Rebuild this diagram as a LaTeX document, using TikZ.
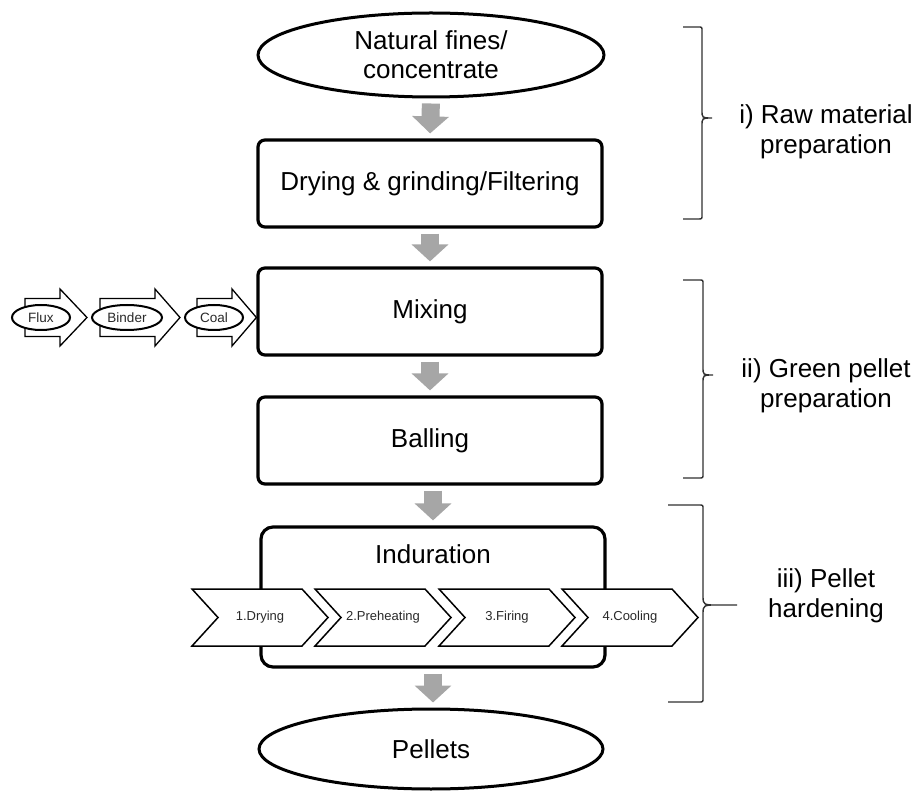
\documentclass[tikz,border=0pt]{standalone}
\usepackage{fontspec}
\setmainfont{Liberation Sans}
\usetikzlibrary{shapes.geometric,arrows.meta,calc}
\definecolor{arrgray}{HTML}{A6A6A6}
\definecolor{txtgray}{HTML}{2A2A2A}
\definecolor{bracegray}{HTML}{303030}
\pgfdeclarelayer{bg}
\pgfsetlayers{bg,main}
\begin{document}
\begin{tikzpicture}[x=1pt,y=-1pt,
  big/.style={font=\fontsize{26}{29}\selectfont},
  lbl/.style={font=\fontsize{26}{30}\selectfont, align=center, text=black},
  procbox/.style={draw=black, line width=3.2pt, rounded corners=7pt, fill=white,
     minimum width=344pt, minimum height=87pt, inner sep=0pt, big},
  endell/.style={draw=black, line width=3pt, ellipse, fill=white, inner sep=0pt, big, align=center},
  flowarrow/.style={draw=arrgray, line width=18pt,
     -{Triangle[width=36pt,length=17pt]}, shorten <=5pt, shorten >=5pt},
  inell/.style={draw=black, line width=2pt, ellipse, fill=white, inner sep=0pt,
     minimum height=25pt, font=\fontsize{13.5}{15}\selectfont, text=txtgray},
  inarr/.style={draw=black, line width=1.3pt, fill=white, line join=miter},
  chev/.style={draw=black, line width=1.5pt, fill=white, line join=miter},
  chevtext/.style={font=\fontsize{13}{15}\selectfont, text=txtgray, inner sep=0pt},
  bracestyle/.style={draw=bracegray, line width=1.4pt}
]
\useasboundingbox (0,0) rectangle (919,791);

% main column
\node[endell, minimum width=346pt, minimum height=84pt] (src) at (431,55) {Natural fines/\\concentrate};
\node[procbox] (dry) at (430,183.5) {Drying \& grinding/Filtering};
\node[procbox] (mix) at (430,311.5) {Mixing};
\node[procbox] (ball) at (430,440.5) {Balling};
\node[procbox, minimum height=140pt, rounded corners=12pt] (ind) at (433,597) {};
\node[big, anchor=base] (indt) at (433,563) {Induration};
\node[endell, minimum width=344pt, minimum height=80pt] (pel) at (431,749) {Pellets};

% chevrons of induration
\foreach \L/\t [count=\i] in {192/1.Drying, 315/2.Preheating, 439/3.Firing, 562/4.Cooling} {
  \draw[chev] (\L,589) -- (\L+110,589) -- (\L+136,617.5) -- (\L+110,646) -- (\L,646) -- (\L+26,617.5) -- cycle;
  \node[chevtext] (c\i) at (\L+68,617.5) {\t};
}

% gray flow arrows
\draw[flowarrow] (src.south) -- (dry.north);
\draw[flowarrow] (dry.south) -- (mix.north);
\draw[flowarrow] (mix.south) -- (ball.north);
\draw[flowarrow] (ball.south -| ind.north) -- (ind.north);
\draw[flowarrow] (ind.south) -- (ind.south |- pel.north);

% input ellipses
\node[inell, minimum width=58pt] (flux) at (41,317.5) {Flux};
\node[inell, minimum width=70pt] (binder) at (127,317.5) {Binder};
\node[inell, minimum width=58pt] (coal) at (214,317.5) {Coal};

\begin{pgfonlayer}{bg}
\draw[inarr] ($(flux.center)+(-16,-19)$) -- ($(flux.center)+(19,-19)$) -- ($(flux.center)+(19,-28.5)$)
  -- ($(flux.center -| binder.west)+(-4,0)$)
  -- ($(flux.center)+(19,28.5)$) -- ($(flux.center)+(19,19)$) -- ($(flux.center)+(-16,19)$) -- cycle;
\draw[inarr] ($(binder.center)+(-27,-19)$) -- ($(binder.center)+(28,-19)$) -- ($(binder.center)+(28,-28.5)$)
  -- ($(binder.center -| coal.west)+(-4,0)$)
  -- ($(binder.center)+(28,28.5)$) -- ($(binder.center)+(28,19)$) -- ($(binder.center)+(-27,19)$) -- cycle;
\draw[inarr] ($(coal.center)+(-17,-19)$) -- ($(coal.center)+(18,-19)$) -- ($(coal.center)+(18,-28.5)$)
  -- (coal.center -| mix.west)
  -- ($(coal.center)+(18,28.5)$) -- ($(coal.center)+(18,19)$) -- ($(coal.center)+(-17,19)$) -- cycle;
\end{pgfonlayer}

% braces
\draw[bracestyle] (683,27) -- (698,27) .. controls (702,27) .. (702,31) -- (702,110)
  .. controls (702,118) .. (712,118) .. controls (702,118) .. (702,126) -- (702,215)
  .. controls (702,219) .. (698,219) -- (683,219);
\draw[bracestyle] (683,280) -- (699,280) .. controls (703,280) .. (703,284) -- (703,367)
  .. controls (703,375) .. (713,375) .. controls (703,375) .. (703,383) -- (703,474)
  .. controls (703,478) .. (699,478) -- (683,478);
\draw[bracestyle] (668,505) -- (699,505) .. controls (703,505) .. (703,509) -- (703,597)
  .. controls (703,605) and (705,605) .. (715,605) -- (737,605) -- (715,605)
  .. controls (705,605) and (703,605) .. (703,613) -- (703,698)
  .. controls (703,702) .. (699,702) -- (668,702);

% labels
\node[lbl] (l1) at (826,132) {i) Raw material\\preparation};
\node[lbl] (l2) at (826,386) {ii) Green pellet\\preparation};
\node[lbl] (l3) at (826,596) {iii) Pellet\\hardening};
\end{tikzpicture}
\end{document}
